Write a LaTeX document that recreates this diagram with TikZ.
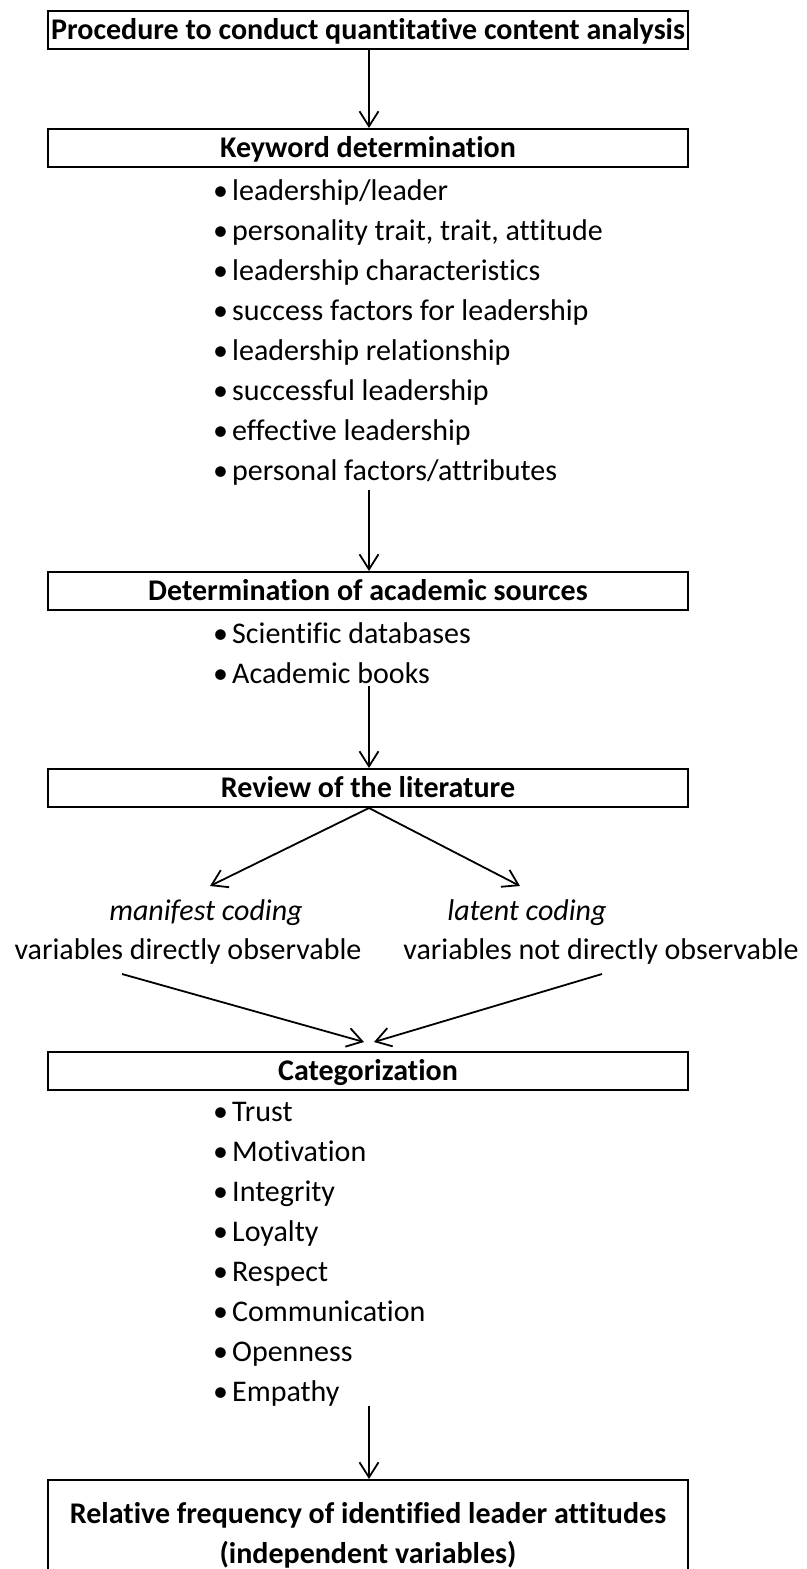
\documentclass[tikz,border=0pt]{standalone}
\usepackage{fontspec}
\setmainfont{Carlito}[Ligatures=NoCommon]
\usetikzlibrary{arrows.meta}
\newcommand{\bulletitem}[1]{\makebox[19pt][l]{\textbullet}#1}
\begin{document}
\begin{tikzpicture}[x=1pt,y=-1pt,
  txt/.style={font=\fontsize{30}{40}\selectfont, inner sep=0pt},
  stage/.style={draw, line width=2pt, minimum width=640pt, minimum height=38pt,
    inner sep=0pt, text height=19pt, text depth=0pt,
    font=\fontsize{30}{40}\selectfont\bfseries},
  item/.style={txt, anchor=base west},
  flow/.style={line width=1.8pt, -{Straight Barb[length=15pt,width=19pt,line width=1.8pt]}}]
\clip (0,0) rectangle (806,1569);
\fill[white] (0,0) rectangle (806,1569);

% main stages
\node[stage] (proc) at (368,30) {Procedure to conduct quantitative content analysis};
\node[stage] (kw) at (368,148) {Keyword determination};
\node[stage] (src) at (368,591) {Determination of academic sources};
\node[stage] (rev) at (368,788) {Review of the literature};
\node[stage] (cat) at (368,1071) {Categorization};
\node[stage, minimum height=120pt, text height=0pt, text depth=0pt] (freq) at (368,1540) {};
\node[txt, font=\fontsize{30}{40}\selectfont\bfseries, align=center] (freqtxt) at (368,1535)
  {Relative frequency of identified leader attitudes\\(independent variables)};

% keyword list
\foreach \t [count=\i] in {leadership/leader, {personality trait, trait, attitude},
  leadership characteristics, success factors for leadership, leadership relationship,
  successful leadership, effective leadership, personal factors/attributes}
  \node[item] (k\i) at (213,160+40*\i) {\bulletitem{\t}};

% source list
\node[item] (s1) at (213,643) {\bulletitem{Scientific databases}};
\node[item] (s2) at (213,683) {\bulletitem{Academic books}};

% coding branches
\node[txt, font=\fontsize{30}{40}\selectfont\itshape] (man) at (206,913) {manifest coding};
\node[txt, font=\fontsize{30}{40}\selectfont\itshape] (lat) at (527,913) {latent coding};
\node[txt] (mand) at (188,951) {variables directly observable};
\node[txt] (latd) at (601,951) {variables not directly observable};

% category list
\foreach \t [count=\i] in {Trust, Motivation, Integrity, Loyalty, Respect,
  Communication, Openness, Empathy}
  \node[item] (c\i) at (213,1081+40*\i) {\bulletitem{\t}};

% connectors
\coordinate (kwend) at (369,490);
\coordinate (srcend) at (369,686);
\coordinate (catend) at (369,1406);
\coordinate (manin) at (210,886);
\coordinate (latin) at (520,886);
\coordinate (manout) at (122,974);
\coordinate (latout) at (602,974);
\coordinate (catinl) at (364,1042);
\coordinate (catinr) at (374,1042);

\draw[flow] (proc.south -| kwend) -- (kw.north -| kwend);
\draw[flow] (kwend) -- (src.north -| kwend);
\draw[flow] (srcend) -- (rev.north -| srcend);
\draw[flow] (rev.south -| srcend) -- (manin);
\draw[flow] (rev.south -| srcend) -- (latin);
\draw[flow] (manout) -- (catinl);
\draw[flow] (latout) -- (catinr);
\draw[flow] (catend) -- (freq.north -| catend);
\end{tikzpicture}
\end{document}
